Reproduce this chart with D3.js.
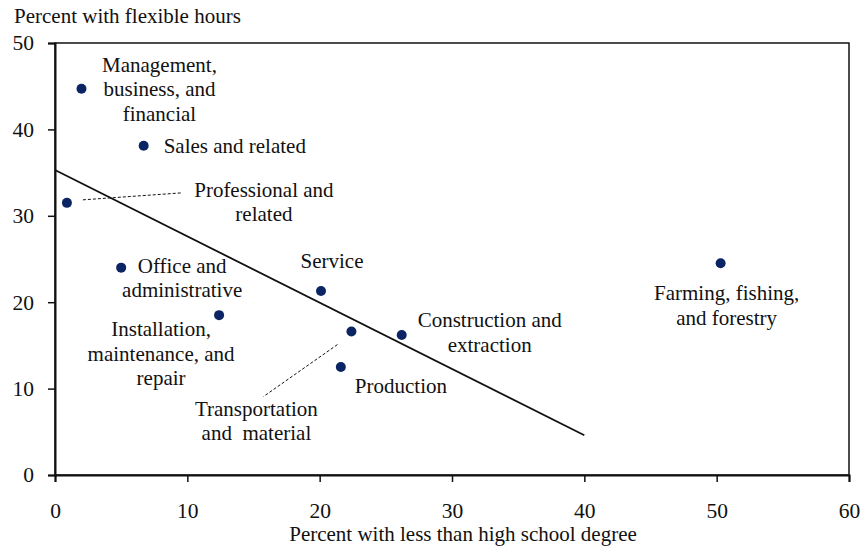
<!DOCTYPE html>
<html>
<head>
<meta charset="utf-8">
<script src="https://cdn.jsdelivr.net/npm/d3@7"></script>
<style>
  body { margin: 0; background: #fff; }
  text { font-family: "Liberation Serif", "Times New Roman", serif; fill: #111; }
</style>
</head>
<body>
<script>
// occupation groups
var occupations = ["Management", "Sales", "Professional", "Office", "Installation",
                   "Service", "Transportation", "Construction", "Production", "Farming"];
// percent with less than high school degree
var lessThanHS = [2.0, 6.7, 0.9, 5.0, 12.4, 20.1, 22.4, 26.2, 21.6, 50.3];
// percent with flexible hours
var flexible = [44.7, 38.1, 31.5, 24.0, 18.5, 21.3, 16.6, 16.2, 12.5, 24.5];
// fitted trend line endpoints
var trendX = [0, 40];
var trendY = [35.3, 4.6];
var xTicks = [0, 10, 20, 30, 40, 50, 60];
var yTicks = [0, 10, 20, 30, 40, 50];

// label text and placement (pixel offsets from the dot)
var labels = {
  "Management":     {lines: ["Management,", "business, and", "financial"], dx: 78, dy: -17, anchor: "middle"},
  "Sales":          {lines: ["Sales and related"], dx: 20, dy: 7, anchor: "start"},
  "Professional":   {lines: ["Professional and", "related"], dx: 197, dy: -6, anchor: "middle", leader: [16, -3, 115, -10]},
  "Office":         {lines: ["Office and", "administrative"], dx: 61, dy: 5, anchor: "middle"},
  "Installation":   {lines: ["Installation,", "maintenance, and", "repair"], dx: -58, dy: 21, anchor: "middle"},
  "Service":        {lines: ["Service"], dx: 11, dy: -23, anchor: "middle"},
  "Transportation": {lines: ["Transportation", "and  material"], dx: -95, dy: 84, anchor: "middle", leader: [-14, 13, -88, 65]},
  "Construction":   {lines: ["Construction and", "extraction"], dx: 88, dy: -8, anchor: "middle"},
  "Production":     {lines: ["Production"], dx: 14, dy: 26, anchor: "start"},
  "Farming":        {lines: ["Farming, fishing,", "and forestry"], dx: 6, dy: 37, anchor: "middle"}
};

var width = 863, height = 550;
var margin = {left: 55, right: 14, top: 43, bottom: 75};

var svg = d3.select("body").append("svg")
    .attr("width", width)
    .attr("height", height);

var x = d3.scaleLinear().domain([0, 60]).range([margin.left, width - margin.right]);
var y = d3.scaleLinear().domain([0, 50]).range([height - margin.bottom, margin.top]);

// frame
svg.append("rect")
    .attr("x", x(0)).attr("y", y(50))
    .attr("width", x(60) - x(0)).attr("height", y(0) - y(50))
    .attr("fill", "none").attr("stroke", "#111").attr("stroke-width", 1.5);

// axes
var xAxis = svg.append("g")
    .attr("transform", "translate(0," + y(0) + ")")
    .call(d3.axisBottom(x).tickValues(xTicks).tickSize(7).tickPadding(21));
var yAxis = svg.append("g")
    .attr("transform", "translate(" + x(0) + ",0)")
    .call(d3.axisLeft(y).tickValues(yTicks).tickSize(7).tickPadding(14));

[xAxis, yAxis].forEach(function(g) {
  g.select(".domain").attr("stroke", "#111").attr("stroke-width", 2);
  g.selectAll(".tick line").attr("stroke", "#111").attr("stroke-width", 1.5);
  g.selectAll(".tick text")
    .style("font-family", "'Liberation Serif', serif")
    .style("font-size", "21.5px")
    .attr("fill", "#111");
});

// axis titles
svg.append("text")
    .attr("x", 14).attr("y", 23)
    .style("font-size", "21px")
    .text("Percent with flexible hours");
svg.append("text")
    .attr("x", (x(0) + x(60)) / 2 + 11).attr("y", 541)
    .attr("text-anchor", "middle")
    .style("font-size", "21px")
    .text("Percent with less than high school degree");

// trend line
svg.append("line")
    .attr("x1", x(trendX[0])).attr("y1", y(trendY[0]))
    .attr("x2", x(trendX[1])).attr("y2", y(trendY[1]))
    .attr("stroke", "#111").attr("stroke-width", 1.8);

var data = occupations.map(function(name, i) {
  return {name: name, x: lessThanHS[i], y: flexible[i]};
});

// leader lines
svg.selectAll(".leader")
    .data(data.filter(function(d) { return labels[d.name].leader; }))
  .enter().append("line")
    .attr("class", "leader")
    .attr("x1", function(d) { return x(d.x) + labels[d.name].leader[0]; })
    .attr("y1", function(d) { return y(d.y) + labels[d.name].leader[1]; })
    .attr("x2", function(d) { return x(d.x) + labels[d.name].leader[2]; })
    .attr("y2", function(d) { return y(d.y) + labels[d.name].leader[3]; })
    .attr("stroke", "#111").attr("stroke-width", 1)
    .attr("stroke-dasharray", "3,2");

// dots
svg.selectAll(".dot")
    .data(data)
  .enter().append("circle")
    .attr("class", "dot")
    .attr("r", 5)
    .attr("cx", function(d) { return x(d.x); })
    .attr("cy", function(d) { return y(d.y); })
    .style("fill", "#0b2463");

// labels
var lab = svg.selectAll(".lab")
    .data(data)
  .enter().append("text")
    .attr("class", "lab")
    .attr("text-anchor", function(d) { return labels[d.name].anchor; })
    .style("font-size", "21px")
    .style("white-space", "pre");

lab.selectAll("tspan")
    .data(function(d) {
      var l = labels[d.name];
      return l.lines.map(function(t, i) {
        return {t: t, x: x(d.x) + l.dx, y: y(d.y) + l.dy + i * 24.5};
      });
    })
  .enter().append("tspan")
    .attr("x", function(s) { return s.x; })
    .attr("y", function(s) { return s.y; })
    .text(function(s) { return s.t; });
</script>
</body>
</html>
